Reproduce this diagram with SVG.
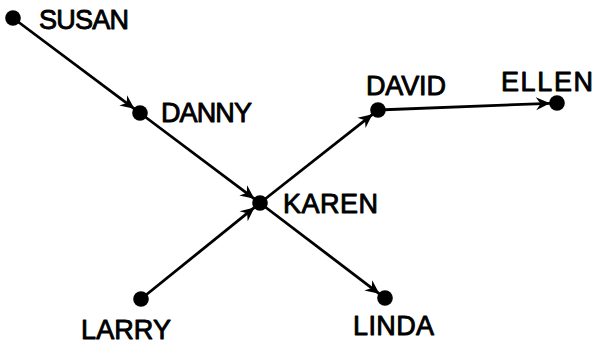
<svg xmlns="http://www.w3.org/2000/svg" width="598" height="345" viewBox="0 0 598 345">
  <style>
    .dot { fill: #000; }
    .edge { stroke: #000; stroke-width: 2.8; fill: none; marker-end: url(#arrow); }
    .label { font-family: "Liberation Sans", Arial, sans-serif; font-size: 27px; fill: #000; stroke: #000; stroke-width: 0.9; stroke-linejoin: round; }
  </style>
  <defs>
    <marker id="arrow" markerUnits="userSpaceOnUse" viewBox="-15 -8 16 16" refX="0" refY="0" markerWidth="16" markerHeight="16" orient="auto">
      <path d="M0,0 L-14,-6.5 L-9.5,0 L-14,6.5 Z" fill="#000"/>
    </marker>
  </defs>
  <rect width="598" height="345" fill="#fff"/>

  <g id="connectors">
    <line class="edge" x1="13" y1="18" x2="134.4" y2="108.8"/>
    <line class="edge" x1="140" y1="113" x2="254.4" y2="198.8"/>
    <line class="edge" x1="141" y1="299" x2="254.5" y2="207.4"/>
    <line class="edge" x1="260" y1="203" x2="372.5" y2="114.3"/>
    <line class="edge" x1="260" y1="203" x2="379.4" y2="293.8"/>
    <line class="edge" x1="378" y1="110" x2="550" y2="103.3"/>
  </g>

  <g id="susan">
    <circle class="dot" cx="13" cy="18" r="7.8"/>
    <text class="label" x="39" y="29" textLength="90" lengthAdjust="spacing">SUSAN</text>
  </g>
  <g id="danny">
    <circle class="dot" cx="140" cy="113" r="7.8"/>
    <text class="label" x="161" y="122" textLength="91" lengthAdjust="spacing">DANNY</text>
  </g>
  <g id="karen">
    <circle class="dot" cx="260" cy="203" r="7.8"/>
    <text class="label" x="283" y="213" textLength="95" lengthAdjust="spacing">KAREN</text>
  </g>
  <g id="david">
    <circle class="dot" cx="378" cy="110" r="7.8"/>
    <text class="label" x="366" y="95" textLength="80" lengthAdjust="spacing">DAVID</text>
  </g>
  <g id="ellen">
    <circle class="dot" cx="557" cy="103" r="7.8"/>
    <text class="label" x="501" y="91" textLength="92" lengthAdjust="spacing">ELLEN</text>
  </g>
  <g id="larry">
    <circle class="dot" cx="141" cy="299" r="7.8"/>
    <text class="label" x="81" y="339" textLength="90" lengthAdjust="spacing">LARRY</text>
  </g>
  <g id="linda">
    <circle class="dot" cx="385" cy="298" r="7.8"/>
    <text class="label" x="353" y="335" textLength="81" lengthAdjust="spacing">LINDA</text>
  </g>
</svg>
